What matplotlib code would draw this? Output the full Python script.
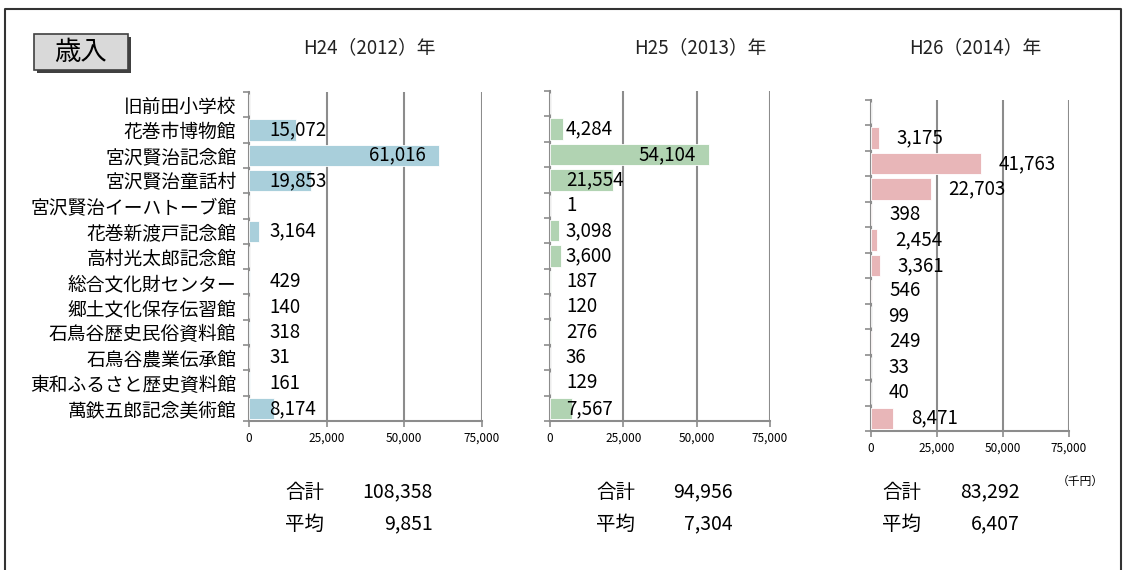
import numpy as np
import matplotlib
matplotlib.use('Agg')
import matplotlib.pyplot as plt
from matplotlib.patches import Rectangle
from matplotlib.lines import Line2D

plt.rcParams['font.family'] = ['Noto Sans CJK JP', 'DejaVu Sans']

categories = ['旧前田小学校', '花巻市博物館', '宮沢賢治記念館', '宮沢賢治童話村',
              '宮沢賢治イーハトーブ館', '花巻新渡戸記念館', '高村光太郎記念館',
              '総合文化財センター', '郷土文化保存伝習館', '石鳥谷歴史民俗資料館',
              '石鳥谷農業伝承館', '東和ふるさと歴史資料館', '萬鉄五郎記念美術館']
nan = np.nan
h24 = [nan, 15072, 61016, 19853, nan, 3164, nan, 429, 140, 318, 31, 161, 8174]
h25 = [nan, 4284, 54104, 21554, 1, 3098, 3600, 187, 120, 276, 36, 129, 7567]
h26 = [nan, 3175, 41763, 22703, 398, 2454, 3361, 546, 99, 249, 33, 40, 8471]
titles = ['H24（2012）年', 'H25（2013）年', 'H26（2014）年']
totals = [108358, 94956, 83292]
averages = [9851, 7304, 6407]
xticks = [0, 25000, 50000, 75000]
colors = ['#a9cfdb', '#b1d3b2', '#e8b6b8']

W, H = 1125, 570
fig = plt.figure(figsize=(W / 100, H / 100), dpi=100)
fig.patch.set_facecolor('white')


def fx(x):
    return x / W


def fy(y):
    return 1 - y / H


# axes boxes in pixels: left, top, right, bottom
boxes = [(249, 92, 482, 421), (550, 91, 770, 421), (871, 100, 1069, 431)]
label_mode = ['inside', 'inside', 'outside']
base_off = [14.5, 11.5, 0]
grey = '#8c8c8c'
lab_fs = 13.5
n = len(categories)
y = np.arange(n)

for i, vals in enumerate([h24, h25, h26]):
    l, t, r, b = boxes[i]
    ax = fig.add_axes([fx(l), fy(b), fx(r - l), (b - t) / H])
    v = np.array(vals, dtype=float)
    ax.barh(y, np.nan_to_num(v), height=0.84, color=colors[i],
            edgecolor='white', linewidth=0.6, zorder=3)
    ax.set_xlim(0, 75000)
    ax.set_ylim(n - 0.5, -0.5)
    ax.set_xticks(xticks)
    ax.set_xticklabels(['0' if x == 0 else f'{x:,}' for x in xticks], fontsize=8.5)
    ax.tick_params(axis='x', length=4, width=1.2, color=grey, pad=4)
    ax.set_yticks(np.arange(n + 1) - 0.5)
    ax.set_yticklabels([])
    ax.set_yticks(y, minor=True)
    ax.tick_params(axis='y', which='major', length=4, width=1.2, color=grey)
    ax.tick_params(axis='y', which='minor', length=0, pad=9)
    if i == 0:
        ax.set_yticklabels(categories, minor=True, fontsize=lab_fs)
    else:
        ax.set_yticklabels([], minor=True)
    ax.grid(axis='x', color=grey, linewidth=1.5, zorder=1)
    ax.grid(axis='y', visible=False)
    for s in ['top', 'right']:
        ax.spines[s].set_visible(False)
    for s in ['left', 'bottom']:
        ax.spines[s].set_color(grey)
        ax.spines[s].set_linewidth(1.5)
    ax.set_facecolor('none')

    for yi, val in zip(y, v):
        if np.isnan(val):
            continue
        txt = f'{int(val):,}'
        if label_mode[i] == 'outside':
            ax.annotate(txt, (val, yi), xytext=(12.5, 0), textcoords='offset points',
                        ha='left', va='center', fontsize=lab_fs, zorder=4)
        elif val > 35000:
            ax.annotate(txt, (val, yi), xytext=(-9.5, 0), textcoords='offset points',
                        ha='right', va='center', fontsize=lab_fs, zorder=4)
        else:
            ax.annotate(txt, (0, yi), xytext=(base_off[i], 0), textcoords='offset points',
                        ha='left', va='center', fontsize=lab_fs, zorder=4)

# titles
for cx, tt in zip([369, 700, 975], titles):
    fig.text(fx(cx), fy(48), tt, ha='center', va='center', fontsize=13.5, color='#222222')

# totals / averages
for lx, rx, tot, avg in zip([285, 596, 882], [433, 733, 1020], totals, averages):
    fig.text(fx(lx), fy(492), '合計', ha='left', va='center', fontsize=14)
    fig.text(fx(rx), fy(492), f'{tot:,}', ha='right', va='center', fontsize=14)
    fig.text(fx(lx), fy(524), '平均', ha='left', va='center', fontsize=14)
    fig.text(fx(rx), fy(524), f'{avg:,}', ha='right', va='center', fontsize=14)

fig.text(fx(1080), fy(481), '（千円）', ha='center', va='center', fontsize=8.5)

# 歳入 box with shadow
fig.patches.append(Rectangle((fx(37), fy(73)), fx(94), (36) / H, transform=fig.transFigure,
                             facecolor='#404040', edgecolor='none', zorder=0))
fig.patches.append(Rectangle((fx(34), fy(70)), fx(94), (36) / H, transform=fig.transFigure,
                             facecolor='#d9d9d9', edgecolor='#404040', linewidth=1.2, zorder=1))
fig.text(fx(81), fy(52), '歳入', ha='center', va='center', fontsize=19)

# outer frame (open at the bottom)
fig.lines.append(Line2D([fx(5), fx(5), fx(1121), fx(1121)], [0, fy(9), fy(9), 0],
                        transform=fig.transFigure, color='#333333', linewidth=1.5))

fig.savefig('out.png', dpi=100)
